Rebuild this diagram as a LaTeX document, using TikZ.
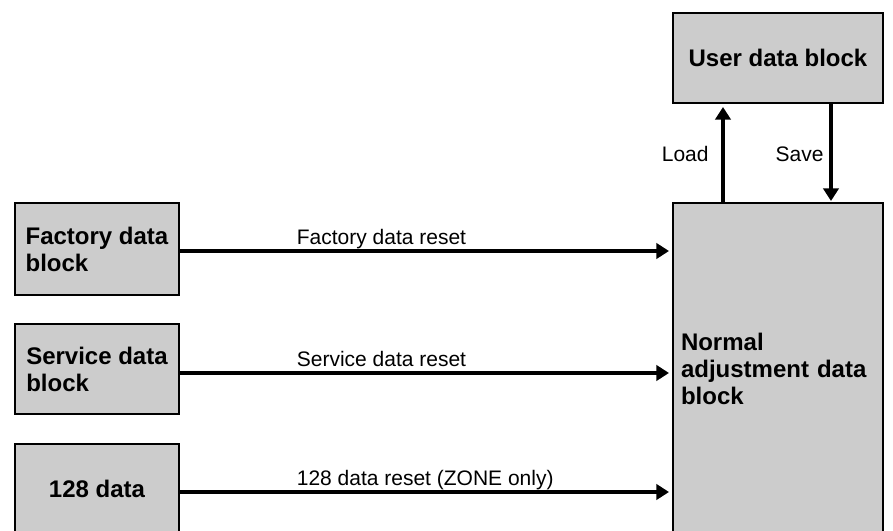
\documentclass[tikz,border=0pt]{standalone}
\usepackage{fontspec}
\setmainfont{Liberation Sans}
\usetikzlibrary{calc,arrows.meta}
\definecolor{blockgray}{RGB}{204,204,204}

\begin{document}
\begin{tikzpicture}[x=0.75pt, y=-0.75pt,
    datablock/.style={draw, line width=1.5pt, fill=blockgray, minimum width=123pt,
        align=left, font=\fontsize{18}{20.25}\selectfont\bfseries},
    flow/.style={line width=3.6pt, -{Triangle[length=9.5pt,width=11.5pt]}},
    flowlabel/.style={font=\fontsize{15.75}{18}\selectfont, inner sep=0pt}]
    % Page frame
    \useasboundingbox (0,0) rectangle (893,531);

    % Source blocks
    \node[datablock, minimum height=69pt] (factory) at (97,249) {Factory data\\block};
    \node[datablock, minimum height=67.5pt] (service) at (97,369) {Service data\\block};
    \node[datablock, minimum height=67.5pt] (zone) at (97,489) {128 data};

    % Target blocks
    \node[datablock, minimum width=157.5pt, minimum height=67.5pt] (user) at (778,58) {User data block};
    \node[datablock, minimum width=157.5pt, minimum height=248.25pt, inner xsep=6pt,
        text width=145.5pt] (normal) at (778,368.5) {Normal\\adjustment data\\block};

    % Reset paths
    \draw[flow] ($(factory.east)+(0,2)$) -- ($(factory.east -| normal.west)+(-3,2)$)
        node[flowlabel, pos=0.234, anchor=base west, yshift=5.25pt] {Factory data reset};
    \draw[flow] ($(service.east)+(0,4)$) -- ($(service.east -| normal.west)+(-3,4)$)
        node[flowlabel, pos=0.234, anchor=base west, yshift=5.25pt] {Service data reset};
    \draw[flow] ($(zone.east)+(0,3)$) -- ($(zone.east -| normal.west)+(-3,3)$)
        node[flowlabel, pos=0.234, anchor=base west, yshift=5.25pt] {128 data reset (ZONE only)};

    % Load and save
    \draw[flow] ($(normal.north west)+(51,0)$) -- ($(user.south west)+(51,3)$)
        node[flowlabel, midway, anchor=base east, xshift=-9pt, yshift=-5.25pt] {Load};
    \draw[flow] ($(user.south west)+(159,0)$) -- ($(normal.north west)+(159,-1)$)
        node[flowlabel, midway, anchor=base east, xshift=-3.75pt, yshift=-6.75pt] {Save};
\end{tikzpicture}
\end{document}
